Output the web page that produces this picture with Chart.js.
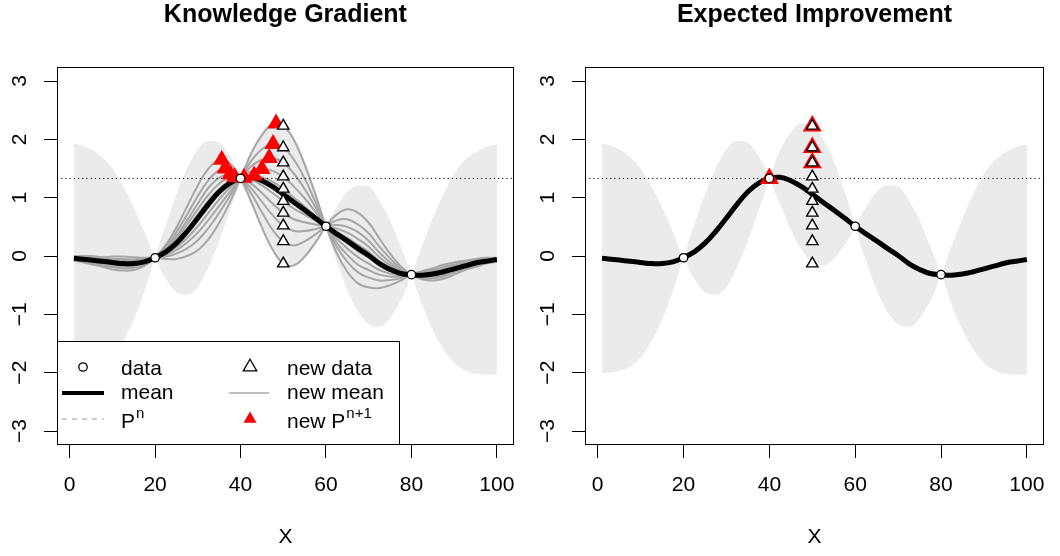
<!DOCTYPE html>
<html>
<head>
<meta charset="utf-8">
<script src="https://cdn.jsdelivr.net/npm/chart.js@4.4.1/dist/chart.umd.min.js"></script>
<style>
  html, body { margin: 0; padding: 0; background: #fff; }
  #wrap { display: flex; width: 1060px; height: 556px; }
  canvas { display: block; }
</style>
</head>
<body>
<div id="wrap">
  <canvas id="kg" width="530" height="556"></canvas>
  <canvas id="ei" width="530" height="556"></canvas>
</div>
<script>
// posterior mean on a regular grid
const gridX = [1, 2.5, 5, 7.5, 10, 12.5, 15, 17.5, 20, 22.5, 25, 27.5, 30, 32.5, 35, 37.5, 40,
  42.5, 45, 47.5, 50, 52.5, 55, 57.5, 60, 62.5, 65, 67.5, 70, 72.5, 75, 77.5, 80,
  82.5, 85, 87.5, 90, 92.5, 95, 97.5, 100];
const meanY = [-0.04, -0.05, -0.07, -0.09, -0.11, -0.13, -0.13, -0.10, -0.03, 0.07, 0.22, 0.42, 0.65, 0.89, 1.10, 1.25, 1.33,
  1.35, 1.29, 1.19, 1.06, 0.92, 0.79, 0.65, 0.51, 0.38, 0.26, 0.13, 0.01, -0.13, -0.23, -0.30, -0.32,
  -0.33, -0.31, -0.27, -0.22, -0.17, -0.12, -0.09, -0.06];

// confidence band (upper / lower edge)
const bandX = [1, 2.5, 5, 7.5, 10, 12.5, 15, 17.5, 18.75, 20, 21.25, 22.5, 25, 27.5, 30, 32.5, 35, 37.5, 38.75, 40,
  41.25, 42.5, 45, 47.5, 50, 52.5, 55, 57.5, 58.75, 60, 61.25, 62.5, 65, 67.5, 70, 72.5, 75, 77.5, 78.75, 80,
  81.25, 82.5, 85, 87.5, 90, 92.5, 95, 97.5, 100];
const bandHi = [1.93, 1.90, 1.83, 1.70, 1.50, 1.20, 0.83, 0.41, 0.18, -0.03, 0.27, 0.53, 1.06, 1.50, 1.83, 1.97, 1.94, 1.71, 1.55, 1.33,
  1.60, 1.81, 2.13, 2.27, 2.24, 2.00, 1.63, 1.11, 0.83, 0.51, 0.69, 0.84, 1.10, 1.21, 1.19, 0.95, 0.61, 0.16, -0.07, -0.32,
  -0.08, 0.18, 0.65, 1.06, 1.41, 1.64, 1.78, 1.87, 1.91];
const bandLo = [-2.01, -2.00, -1.97, -1.90, -1.74, -1.46, -1.09, -0.61, -0.32, -0.03, -0.23, -0.39, -0.62, -0.66, -0.53, -0.19, 0.26, 0.79, 1.05, 1.33,
  1.10, 0.89, 0.45, 0.11, -0.12, -0.16, -0.05, 0.19, 0.33, 0.51, 0.19, -0.08, -0.58, -0.95, -1.17, -1.21, -1.07, -0.76, -0.57, -0.32,
  -0.58, -0.84, -1.27, -1.60, -1.83, -1.96, -2.02, -2.03, -2.03];

// observed data
const obsX = [20, 40, 60, 80];
const obsY = [-0.03, 1.33, 0.51, -0.32];
const bestObs = 1.33;

// hypothetical new observations at x = 50
const newX = 50;
const newY = [2.23, 1.86, 1.60, 1.36, 1.15, 0.94, 0.74, 0.52, 0.25, -0.13];

// updated means, one per new observation (on gridX)
const newMeans = [
  [-0.01, 0.00, 0.00, -0.02, -0.01, -0.01, -0.02, -0.03, -0.03, -0.05, -0.05, 0.00, 0.10, 0.29, 0.57, 0.92, 1.33, 1.76, 2.07, 2.26, 2.23, 1.99, 1.57, 1.06, 0.51, 0.05, -0.27, -0.47, -0.54, -0.55, -0.50, -0.42, -0.32, -0.26, -0.21, -0.15, -0.11, -0.08, -0.05, -0.03, -0.03],
  [-0.02, -0.02, -0.02, -0.04, -0.05, -0.05, -0.06, -0.05, -0.03, -0.01, 0.04, 0.13, 0.27, 0.48, 0.74, 1.03, 1.33, 1.63, 1.83, 1.92, 1.86, 1.65, 1.33, 0.93, 0.51, 0.16, -0.10, -0.28, -0.37, -0.42, -0.41, -0.38, -0.32, -0.28, -0.24, -0.19, -0.14, -0.10, -0.07, -0.05, -0.04],
  [-0.02, -0.03, -0.04, -0.06, -0.07, -0.08, -0.08, -0.07, -0.03, 0.02, 0.10, 0.23, 0.40, 0.62, 0.86, 1.10, 1.33, 1.54, 1.65, 1.68, 1.60, 1.41, 1.15, 0.84, 0.51, 0.23, 0.02, -0.15, -0.24, -0.32, -0.35, -0.35, -0.32, -0.30, -0.26, -0.22, -0.16, -0.12, -0.09, -0.06, -0.04],
  [-0.03, -0.04, -0.05, -0.08, -0.09, -0.10, -0.10, -0.08, -0.03, 0.04, 0.15, 0.31, 0.51, 0.74, 0.97, 1.17, 1.33, 1.46, 1.49, 1.46, 1.36, 1.19, 0.99, 0.76, 0.51, 0.30, 0.13, -0.02, -0.13, -0.24, -0.30, -0.33, -0.32, -0.31, -0.28, -0.24, -0.18, -0.14, -0.10, -0.07, -0.05],
  [-0.04, -0.05, -0.07, -0.09, -0.11, -0.12, -0.12, -0.10, -0.03, 0.06, 0.20, 0.39, 0.61, 0.84, 1.06, 1.23, 1.33, 1.38, 1.35, 1.27, 1.15, 1.00, 0.85, 0.68, 0.51, 0.36, 0.22, 0.08, -0.03, -0.16, -0.25, -0.31, -0.32, -0.33, -0.30, -0.26, -0.20, -0.15, -0.12, -0.08, -0.06],
  [-0.04, -0.05, -0.08, -0.11, -0.13, -0.14, -0.14, -0.11, -0.03, 0.08, 0.25, 0.46, 0.71, 0.95, 1.15, 1.28, 1.33, 1.31, 1.21, 1.08, 0.94, 0.81, 0.71, 0.61, 0.51, 0.41, 0.31, 0.19, 0.07, -0.09, -0.20, -0.29, -0.32, -0.34, -0.32, -0.28, -0.22, -0.17, -0.13, -0.09, -0.06],
  [-0.05, -0.06, -0.09, -0.12, -0.15, -0.16, -0.16, -0.12, -0.03, 0.10, 0.29, 0.54, 0.80, 1.05, 1.24, 1.34, 1.33, 1.24, 1.08, 0.90, 0.74, 0.63, 0.58, 0.54, 0.51, 0.47, 0.40, 0.29, 0.16, -0.02, -0.16, -0.27, -0.32, -0.35, -0.34, -0.30, -0.24, -0.18, -0.14, -0.09, -0.07],
  [-0.06, -0.07, -0.10, -0.14, -0.17, -0.18, -0.18, -0.13, -0.03, 0.12, 0.34, 0.61, 0.90, 1.17, 1.34, 1.40, 1.33, 1.16, 0.93, 0.70, 0.52, 0.43, 0.43, 0.46, 0.51, 0.53, 0.50, 0.41, 0.26, 0.06, -0.11, -0.25, -0.32, -0.36, -0.36, -0.32, -0.26, -0.20, -0.15, -0.10, -0.08],
  [-0.06, -0.08, -0.12, -0.16, -0.19, -0.21, -0.20, -0.15, -0.03, 0.15, 0.41, 0.71, 1.03, 1.30, 1.47, 1.48, 1.33, 1.07, 0.75, 0.45, 0.25, 0.18, 0.25, 0.37, 0.51, 0.61, 0.63, 0.54, 0.39, 0.16, -0.04, -0.22, -0.32, -0.38, -0.38, -0.35, -0.28, -0.22, -0.17, -0.11, -0.08],
  [-0.08, -0.10, -0.14, -0.18, -0.23, -0.25, -0.24, -0.17, -0.03, 0.19, 0.49, 0.85, 1.21, 1.50, 1.64, 1.58, 1.33, 0.93, 0.49, 0.11, -0.13, -0.16, -0.01, 0.23, 0.51, 0.71, 0.80, 0.74, 0.57, 0.30, 0.04, -0.18, -0.32, -0.40, -0.42, -0.39, -0.32, -0.24, -0.19, -0.13, -0.10]
];

// maxima of the updated means (knowledge gradient)
const kgX = [48.3, 47.6, 46.7, 45.0, 43.2, 40.8, 38.6, 37.6, 36.4, 35.6];
const kgY = [2.27, 1.92, 1.68, 1.49, 1.38, 1.34, 1.35, 1.40, 1.50, 1.65];

// points that improve on the best value (expected improvement)
const eiX = [40, 50, 50, 50];
const eiY = [1.33, 2.23, 1.86, 1.60];

const xTicks = [0, 20, 40, 60, 80, 100];
const yTicks = [-3, -2, -1, 0, 1, 2, 3];
const xLim = [-2.96, 103.96];
const yLim = [-3.24, 3.24];

const FONT = '"Liberation Sans", Arial, Helvetica, sans-serif';
Chart.defaults.font.family = FONT;
Chart.defaults.color = '#000';

const pts = (xs, ys) => ys.map((y, i) => ({ x: Array.isArray(xs) ? xs[i] : xs, y: y }));

function scales(yWidth) {
  return {
    x: {
      type: 'linear', min: xLim[0], max: xLim[1],
      afterBuildTicks: s => { s.ticks = xTicks.map(v => ({ value: v })); },
      afterFit: s => { s.height = 111; },
      grid: { drawOnChartArea: false, drawTicks: true, tickLength: 13, tickColor: '#000', tickWidth: 1 },
      border: { display: false },
      ticks: { font: { size: 21 }, color: '#000', padding: 15, maxRotation: 0, autoSkip: false },
      title: { display: true, text: 'X', font: { size: 21 }, color: '#000', padding: { top: 0, bottom: 6 } }
    },
    y: {
      type: 'linear', min: yLim[0], max: yLim[1],
      afterBuildTicks: s => { s.ticks = yTicks.map(v => ({ value: v })); },
      afterFit: s => { s.width = yWidth; },
      grid: { drawOnChartArea: false, drawTicks: true, tickLength: 13, tickColor: '#000', tickWidth: 1 },
      border: { display: false },
      ticks: { display: false }
    }
  };
}

// box around the plotting region
const frame = {
  id: 'frame',
  afterDraw(chart) {
    const { ctx, chartArea: a } = chart;
    ctx.save();
    ctx.strokeStyle = '#000';
    ctx.lineWidth = 1;
    ctx.strokeRect(Math.round(a.left) + 0.5, Math.round(a.top) + 0.5,
      Math.round(a.right - a.left) - 1, Math.round(a.bottom - a.top) - 1);
    ctx.restore();
  }
};

// y tick labels, turned to read upwards
const yLabels = {
  id: 'yLabels',
  afterDraw(chart) {
    const { ctx, chartArea: a } = chart;
    const ys = chart.scales.y;
    ctx.save();
    ctx.font = '21px ' + FONT;
    ctx.fillStyle = '#000';
    ctx.textAlign = 'center';
    ctx.textBaseline = 'middle';
    yTicks.forEach(v => {
      ctx.save();
      ctx.translate(a.left - 37, ys.getPixelForValue(v));
      ctx.rotate(-Math.PI / 2);
      ctx.fillText(v < 0 ? '\u2212' + Math.abs(v) : String(v), 0, 0);
      ctx.restore();
    });
    ctx.restore();
  }
};

function tri(ctx, x, y, r) {
  ctx.beginPath();
  ctx.moveTo(x, y - r);
  ctx.lineTo(x + r * 0.866, y + r / 2);
  ctx.lineTo(x - r * 0.866, y + r / 2);
  ctx.closePath();
}

// legend in the lower left of the KG panel
const kgLegend = {
  id: 'kgLegend',
  afterDraw(chart) {
    const { ctx, chartArea: a } = chart;
    const w = 342, h = 104;
    const left = Math.round(a.left), top = Math.round(a.bottom) - h;
    const rows = [top + 26, top + 52, top + 78];
    const c1 = left + 26, c2 = left + 193;
    const t1 = left + 64, t2 = left + 230;
    ctx.save();
    ctx.fillStyle = '#fff';
    ctx.fillRect(left, top, w, h);
    ctx.strokeStyle = '#000';
    ctx.lineWidth = 1;
    ctx.strokeRect(left + 0.5, top + 0.5, w, h - 1);

    // data
    ctx.beginPath();
    ctx.arc(c1, rows[0], 4.2, 0, Math.PI * 2);
    ctx.fillStyle = '#fff';
    ctx.fill();
    ctx.lineWidth = 1.3;
    ctx.stroke();
    // mean
    ctx.beginPath();
    ctx.moveTo(c1 - 21, rows[1]);
    ctx.lineTo(c1 + 21, rows[1]);
    ctx.lineWidth = 4;
    ctx.stroke();
    // P^n
    ctx.beginPath();
    ctx.setLineDash([5, 5]);
    ctx.moveTo(c1 - 21, rows[2]);
    ctx.lineTo(c1 + 21, rows[2]);
    ctx.strokeStyle = '#999999';
    ctx.lineWidth = 1;
    ctx.stroke();
    ctx.setLineDash([]);
    // new data
    tri(ctx, c2, rows[0], 7.8);
    ctx.strokeStyle = '#000';
    ctx.lineWidth = 1.3;
    ctx.stroke();
    // new mean
    ctx.beginPath();
    ctx.moveTo(c2 - 21, rows[1]);
    ctx.lineTo(c2 + 19, rows[1]);
    ctx.strokeStyle = '#aaaaaa';
    ctx.lineWidth = 1.3;
    ctx.stroke();
    // new P^(n+1)
    tri(ctx, c2, rows[2], 7.5);
    ctx.fillStyle = '#ff0000';
    ctx.fill();

    ctx.fillStyle = '#000';
    ctx.textAlign = 'left';
    ctx.textBaseline = 'alphabetic';
    ctx.font = '21px ' + FONT;
    ctx.fillText('data', t1, rows[0] + 8);
    ctx.fillText('mean', t1, rows[1] + 6);
    ctx.fillText('P', t1, rows[2] + 9);
    ctx.fillText('new data', t2, rows[0] + 8);
    ctx.fillText('new mean', t2, rows[1] + 6);
    ctx.fillText('new P', t2, rows[2] + 9);
    const pw = ctx.measureText('P').width;
    const npw = ctx.measureText('new P').width;
    ctx.font = '15px ' + FONT;
    ctx.fillText('n', t1 + pw + 1, rows[2] - 1);
    ctx.fillText('n+1', t2 + npw + 1, rows[2] - 1);
    ctx.restore();
  }
};

const bandSets = [
  { data: pts(bandX, bandHi), fill: '+1', backgroundColor: '#ebebeb', borderWidth: 0, borderColor: 'rgba(0,0,0,0)',
    pointRadius: 0, cubicInterpolationMode: 'monotone', order: 100 },
  { data: pts(bandX, bandLo), fill: false, borderWidth: 0, borderColor: 'rgba(0,0,0,0)',
    pointRadius: 0, cubicInterpolationMode: 'monotone', order: 99 }
];
const meanSet = { data: pts(gridX, meanY), borderColor: '#000', borderWidth: 5, pointRadius: 0,
  tension: 0.4, fill: false, order: 80 };
const bestSet = { data: pts(xLim, [bestObs, bestObs]), borderColor: '#000', borderWidth: 1, borderDash: [1.2, 3],
  pointRadius: 0, fill: false, order: 75 };
const obsSet = { data: pts(obsX, obsY), showLine: false, pointStyle: 'circle', pointRadius: 4.2, pointBorderWidth: 1.3,
  pointBackgroundColor: '#fff', pointBorderColor: '#000', order: 60 };
const newSet = { data: pts(newX, newY), showLine: false, pointStyle: 'triangle', pointRadius: 6.5, pointBorderWidth: 1.4,
  pointBackgroundColor: '#fff', pointBorderColor: '#000', order: 50 };

function common(title, yWidth, padRight) {
  return {
    responsive: false,
    animation: false,
    devicePixelRatio: 1,
    events: [],
    layout: { padding: { left: 0, right: padRight, top: 0, bottom: 0 } },
    scales: scales(yWidth),
    plugins: {
      legend: { display: false },
      tooltip: { enabled: false },
      title: { display: true, text: title, fullSize: false, color: '#000',
        font: { size: 25, weight: 'bold' }, padding: { top: 0, bottom: 37 } }
    }
  };
}

new Chart(document.getElementById('kg'), {
  type: 'line',
  data: {
    datasets: [
      ...bandSets,
      ...newMeans.map(ys => ({ data: pts(gridX, ys), borderColor: '#a6a6a6', borderWidth: 2, pointRadius: 0,
        tension: 0.4, fill: false, order: 90 })),
      meanSet,
      bestSet,
      { data: pts(kgX, kgY), showLine: false, pointStyle: 'triangle', pointRadius: 10, pointBorderWidth: 0,
        pointBackgroundColor: '#ff0000', pointBorderColor: '#ff0000', order: 70 },
      obsSet,
      newSet
    ]
  },
  options: common('Knowledge Gradient', 57, 14),
  plugins: [yLabels, kgLegend, frame]
});

new Chart(document.getElementById('ei'), {
  type: 'line',
  data: {
    datasets: [
      ...bandSets.map(d => Object.assign({}, d)),
      Object.assign({}, meanSet),
      Object.assign({}, bestSet),
      { data: pts(eiX, eiY), showLine: false, pointStyle: 'triangle', pointRadius: 11, pointBorderWidth: 0,
        pointBackgroundColor: '#ff0000', pointBorderColor: '#ff0000', order: 70 },
      Object.assign({}, obsSet),
      Object.assign({}, newSet)
    ]
  },
  options: common('Expected Improvement', 55, 15),
  plugins: [yLabels, frame]
});
</script>
</body>
</html>
